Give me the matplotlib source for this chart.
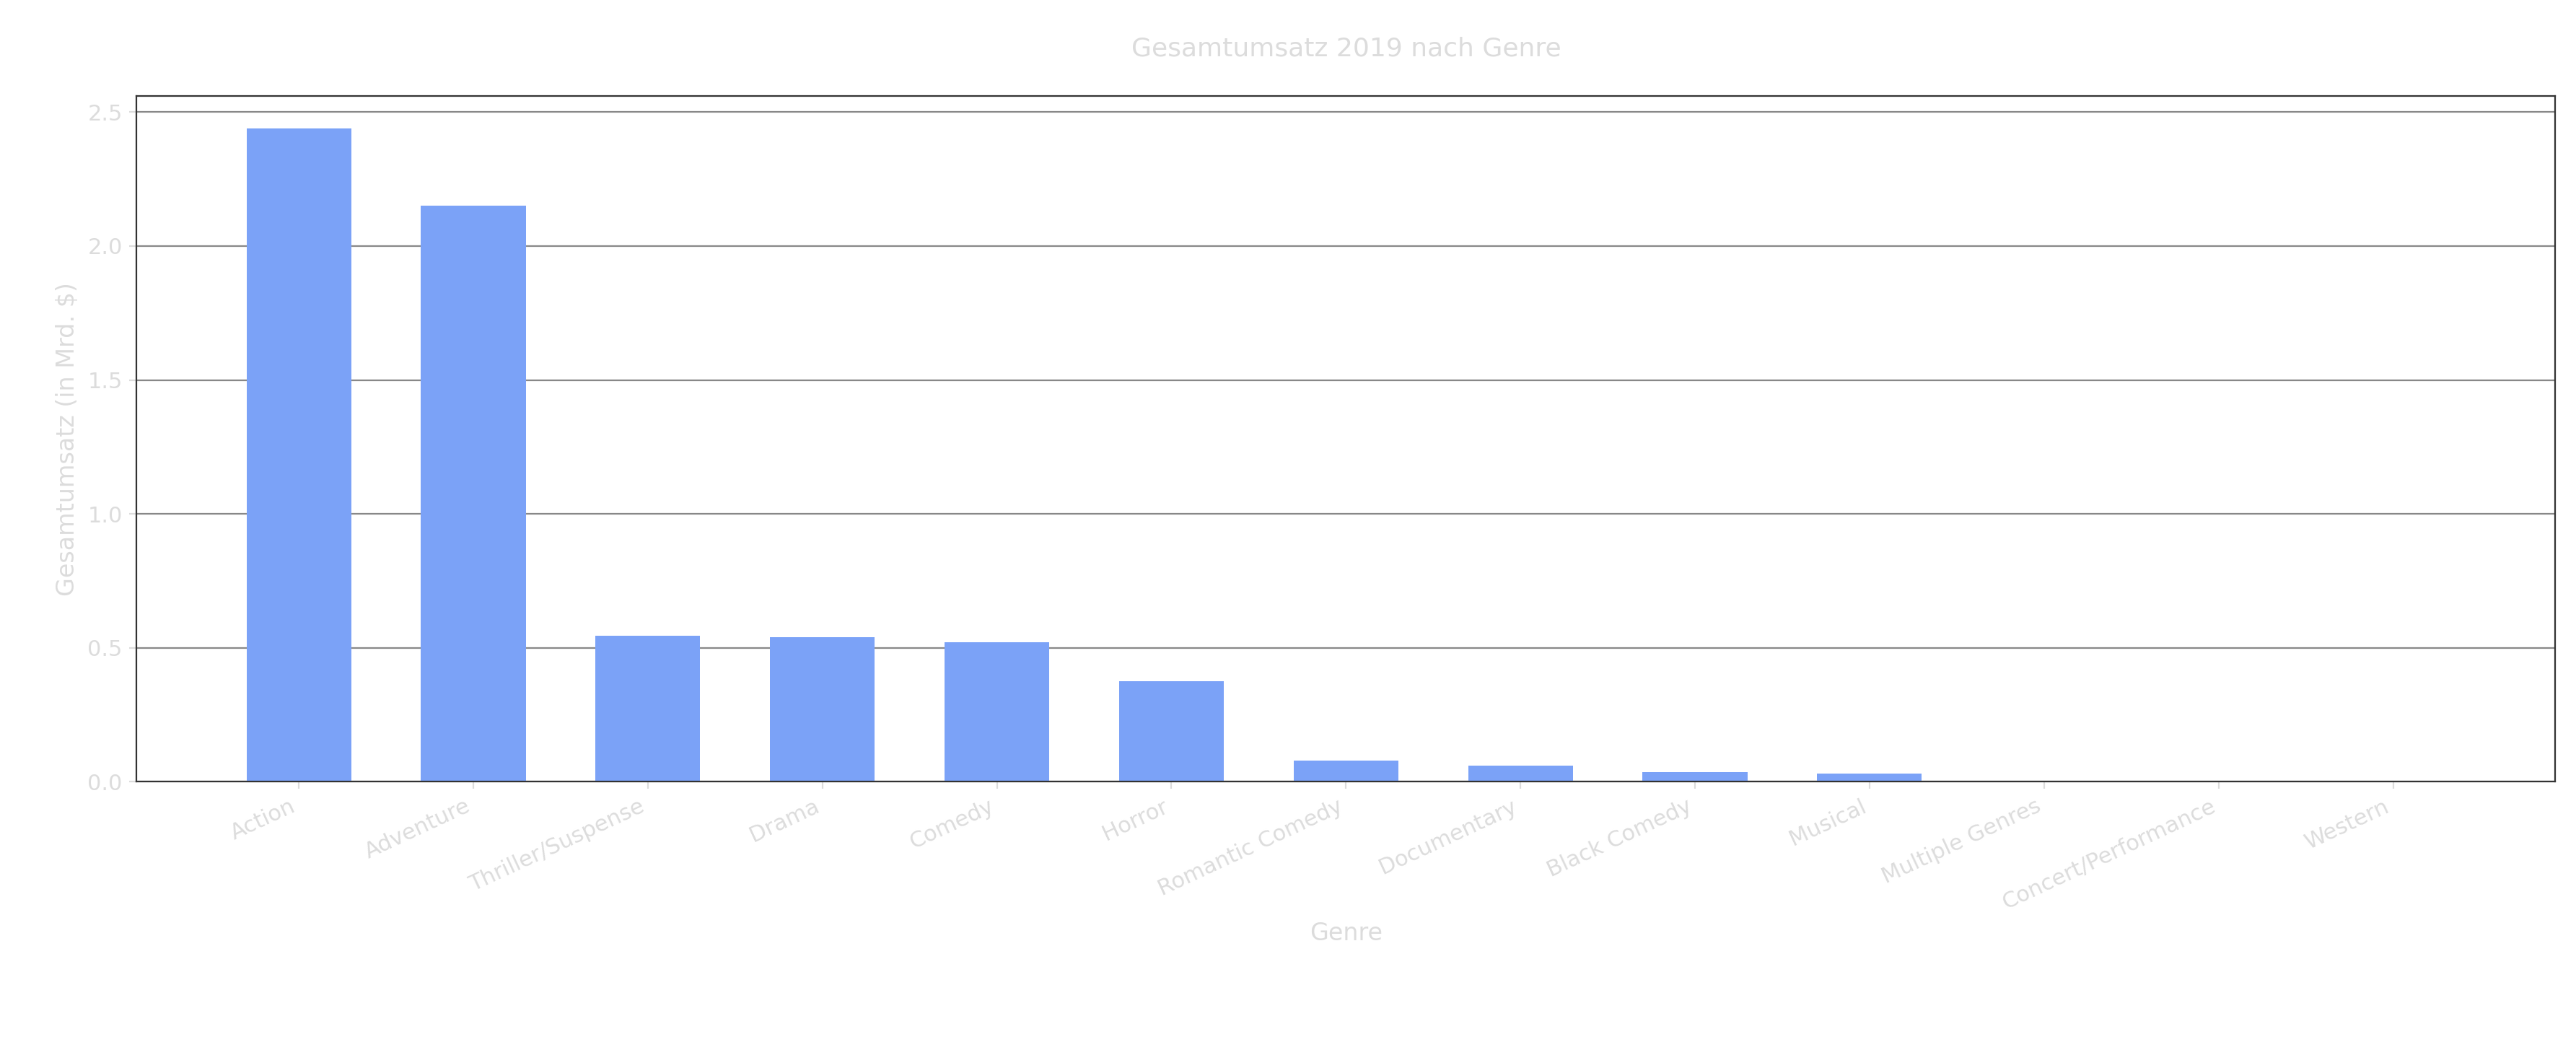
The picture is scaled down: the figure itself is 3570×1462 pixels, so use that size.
import matplotlib
matplotlib.use("Agg")
import matplotlib.pyplot as plt

genres = ["Action", "Adventure", "Thriller/Suspense", "Drama", "Comedy", "Horror",
          "Romantic Comedy", "Documentary", "Black Comedy", "Musical",
          "Multiple Genres", "Concert/Performance", "Western"]
revenue = [2.44, 2.15, 0.545, 0.54, 0.52, 0.375, 0.08, 0.06, 0.035, 0.03, 0.002, 0.001, 0.0005]

txt = "#dcdcdc"
fig = plt.figure(figsize=(17.85, 7.31), dpi=200)
ax = fig.add_axes([0.053, 0.259, 0.939, 0.65])
ax.bar(range(len(genres)), revenue, width=0.6, color="#7ba2f7", zorder=2)
ax.set_xlim(-0.93, 12.93)
ax.set_ylim(0, 2.56)
ax.set_yticks([0, 0.5, 1.0, 1.5, 2.0, 2.5])
ax.yaxis.grid(True, color="#888888", linewidth=0.8, zorder=0)
ax.set_xticks(range(len(genres)))
ax.set_xticklabels(genres, rotation=25, ha="right", color=txt, fontsize=11)
ax.tick_params(axis="y", colors=txt, labelsize=11)
ax.tick_params(axis="x", colors=txt)
for s in ax.spines.values():
    s.set_color("#333333")
ax.set_title("Gesamtumsatz 2019 nach Genre", color=txt, fontsize=13, pad=20)
ax.set_xlabel("Genre", color=txt, fontsize=12)
ax.set_ylabel("Gesamtumsatz (in Mrd. $)", color=txt, fontsize=12)
fig.savefig("out.png", dpi=200)
